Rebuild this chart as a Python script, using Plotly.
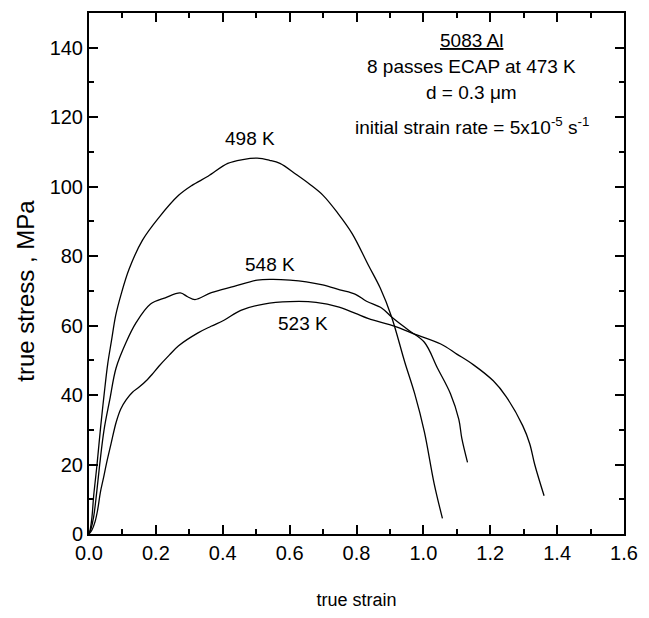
import plotly.graph_objects as go

# --- data ---
strain_498 = [0, 0.004, 0.009, 0.014, 0.024, 0.035, 0.045, 0.056, 0.067, 0.08, 0.096, 0.12, 0.16,
              0.209, 0.268, 0.307, 0.356, 0.415, 0.46, 0.503, 0.54, 0.571, 0.62, 0.66, 0.70, 0.743,
              0.787, 0.836, 0.871, 0.905, 0.944, 0.974, 1.003, 1.032, 1.057]
stress_498 = [0, 1.5, 5, 11, 20, 31, 40, 49, 55.5, 63, 69, 76.3, 84.6,
              91.1, 97.5, 100.3, 103, 106.7, 107.8, 108.2, 107.6, 106.7, 103.5, 100.7, 97.5, 92.5,
              86.5, 77.3, 70.8, 62.5, 49.6, 40.4, 29.4, 14.6, 4.5]

strain_548 = [0, 0.006, 0.014, 0.023, 0.032, 0.045, 0.062, 0.081, 0.111, 0.14, 0.184, 0.228, 0.273,
              0.295, 0.317, 0.366, 0.434, 0.503, 0.55, 0.601, 0.65, 0.699, 0.75, 0.797, 0.83, 0.876,
              0.905, 0.954, 1.003, 1.042, 1.081, 1.106, 1.115, 1.132]
stress_548 = [0, 1.5, 5, 12, 20, 30, 38.6, 47.8, 55.2, 60.7, 66.2, 68.0, 69.4,
              68.3, 67.5, 69.5, 71.3, 73.1, 73.3, 73.1, 72.6, 71.7, 70.3, 69.0, 67.0, 65.0,
              62.5, 58.8, 55.2, 47.8, 40.4, 33, 27.5, 20.6]

strain_523 = [0, 0.008, 0.018, 0.026, 0.034, 0.043, 0.052, 0.066, 0.081, 0.095, 0.111, 0.13, 0.15,
              0.175, 0.189, 0.209, 0.24, 0.268, 0.326, 0.365, 0.405, 0.454, 0.523, 0.601, 0.679,
              0.748, 0.797, 0.836, 0.915, 0.964, 1.052, 1.10, 1.15, 1.209, 1.248, 1.297, 1.318,
              1.333, 1.361]
stress_523 = [0, 1, 3.5, 7, 12, 16, 20.2, 26, 32.1, 36, 38.6, 40.8, 42.3,
              44.5, 46, 48.3, 51.5, 54.2, 57.9, 59.8, 61.6, 64.4, 66.2, 66.9, 66.7,
              65.3, 63.5, 62, 59.8, 57.9, 54.7, 51.8, 48.7, 44.1, 39.5, 31.2, 26,
              20, 11]

curve_labels = ["498 K", "548 K", "523 K"]
label_x = [0.48, 0.541, 0.641]
label_y = [114, 77.7, 60.5]

info_lines = ["<u>5083 Al</u>", "8 passes ECAP at 473 K", "d = 0.3 \u03bcm",
              "initial strain rate = 5x10<sup>-5</sup> s<sup>-1</sup>"]
info_y = [142, 134.5, 127, 117.5]
info_x = 1.144

x_ticks = [0.0, 0.2, 0.4, 0.6, 0.8, 1.0, 1.2, 1.4, 1.6]
x_ticklabels = ["0.0", "0.2", "0.4", "0.6", "0.8", "1.0", "1.2", "1.4", "1.6"]
y_ticks = [0, 20, 40, 60, 80, 100, 120, 140]

x_title = "true strain"
y_title = "true stress , MPa"

FONT = "Liberation Sans, Arial, sans-serif"

fig = go.Figure()
for xs, ys in [(strain_498, stress_498), (strain_548, stress_548), (strain_523, stress_523)]:
    fig.add_trace(go.Scatter(x=xs, y=ys, mode="lines", line=dict(color="black", width=1.3),
                             line_shape="spline", hoverinfo="skip", showlegend=False))

for t, x, y in zip(curve_labels, label_x, label_y):
    fig.add_annotation(x=x, y=y, text=t, showarrow=False, xref="x", yref="y",
                       font=dict(family=FONT, size=19, color="black"))

for t, y in zip(info_lines, info_y):
    fig.add_annotation(x=info_x, y=y, text=t, showarrow=False, xref="x", yref="y",
                       font=dict(family=FONT, size=19, color="black"))

# y-axis title placed as rotated text left of the tick labels
fig.add_annotation(x=-0.118, y=70, xref="paper", yref="y", text=y_title, textangle=-90,
                   showarrow=False, xanchor="center", yanchor="middle",
                   font=dict(family=FONT, size=24, color="black"))

axis_common = dict(showline=True, linewidth=2, linecolor="black", mirror="allticks",
                   ticks="inside", ticklen=9, tickwidth=1.5, tickcolor="black",
                   showgrid=False, zeroline=False,
                   tickfont=dict(family=FONT, size=20, color="black"))

fig.update_xaxes(range=[0, 1.6], tickvals=x_ticks, ticktext=x_ticklabels,
                 minor=dict(ticks="inside", ticklen=5, tickwidth=1.5, tickcolor="black", dtick=0.1,
                            showgrid=False),
                 title=dict(text=x_title, font=dict(family=FONT, size=18, color="black"),
                            standoff=30),
                 **axis_common)
fig.update_yaxes(range=[0, 150], tickvals=y_ticks,
                 minor=dict(ticks="inside", ticklen=5, tickwidth=1.5, tickcolor="black", dtick=10,
                            showgrid=False),
                 **axis_common)

fig.update_layout(width=649, height=618, margin=dict(l=89, r=17, t=11, b=65),
                  paper_bgcolor="white", plot_bgcolor="white")

fig.write_html("out.html", config={"displayModeBar": False},
               post_script="document.body.style.margin='0';")
